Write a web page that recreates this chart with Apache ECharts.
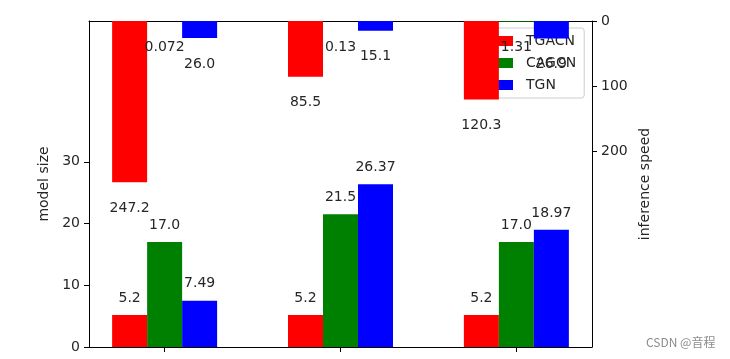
<!DOCTYPE html>
<html>
<head>
<meta charset="utf-8">
<script src="https://cdn.jsdelivr.net/npm/echarts@6/dist/echarts.min.js"></script>
<style>
html,body{margin:0;padding:0;background:#fff;}
#chart{width:730px;height:359px;}
</style>
</head>
<body>
<div id="chart"></div>
<script>
// ---- data ----
var categories = [0, 1, 2];
var seriesNames = ['TGACN', 'CAGCN', 'TGN'];
var modelSizeTGACN = [5.2, 5.2, 5.2];
var modelSizeCAGCN = [17.0, 21.5, 17.0];
var modelSizeTGN = [7.49, 26.37, 18.97];
var speedTGACN = [247.2, 85.5, 120.3];
var speedCAGCN = [0.072, 0.13, 1.31];
var speedTGN = [26.0, 15.1, 26.9];
var leftTicks = [0, 10, 20, 30];
var rightTicks = [0, 100, 200];
var colors = ['#ff0000', '#008000', '#0000ff'];

var FONT = 'DejaVu Sans';
var TXT = '#262626';

function pairs(vals) { return categories.map(function (c, i) { return [c, vals[i]]; }); }
function fmt(p) {
  var v = p.value[1];
  return Number.isInteger(v) ? v.toFixed(1) : String(v);
}

function leftSeries(name, vals, color) {
  return {
    name: name, type: 'bar', xAxisIndex: 0, yAxisIndex: 0,
    data: pairs(vals), barWidth: 35, barGap: '0%',
    itemStyle: { color: color },
    label: { show: true, position: 'top', distance: 10, formatter: fmt,
      fontFamily: FONT, fontSize: 14, color: TXT },
    z: 2
  };
}
function rightSeries(name, vals, color) {
  return {
    name: name + ' speed', type: 'bar', xAxisIndex: 1, yAxisIndex: 1,
    data: pairs(vals), barWidth: 35, barGap: '0%',
    itemStyle: { color: color },
    label: { show: true, position: 'bottom', distance: 19, formatter: fmt,
      fontFamily: FONT, fontSize: 14, color: TXT },
    z: 3
  };
}

var axisLineStyle = { show: true, onZero: false, lineStyle: { color: '#000', width: 1 } };

var option = {
  animation: false,
  backgroundColor: '#fff',
  grid: { left: 89, right: 138, top: 21, bottom: 12, containLabel: false },
  legend: {
    data: seriesNames,
    orient: 'vertical',
    left: 478, top: 28,
    padding: [5, 8, 5, 7],
    itemWidth: 28, itemHeight: 10, itemGap: 6,
    icon: 'rect',
    backgroundColor: 'rgba(255,255,255,0.8)',
    borderColor: '#cccccc', borderWidth: 1, borderRadius: 3,
    textStyle: { fontFamily: FONT, fontSize: 14, color: TXT, lineHeight: 16, padding: [0, 0, 0, 8] },
    z: 1
  },
  xAxis: [
    { type: 'value', min: -0.43, max: 2.43, position: 'bottom',
      axisLine: axisLineStyle,
      axisTick: { show: true, length: 5, customValues: categories, lineStyle: { color: '#000' } },
      axisLabel: { show: false },
      splitLine: { show: false } },
    { type: 'value', min: -0.43, max: 2.43, position: 'top',
      axisLine: axisLineStyle,
      axisTick: { show: false }, axisLabel: { show: false },
      splitLine: { show: false } }
  ],
  yAxis: [
    { type: 'value', min: 0, max: 52.8, position: 'left',
      name: 'model size', nameLocation: 'middle', nameGap: 38,
      nameTextStyle: { fontFamily: FONT, fontSize: 14, color: TXT },
      axisLine: axisLineStyle,
      axisTick: { show: true, length: 5, customValues: leftTicks, lineStyle: { color: '#000' } },
      axisLabel: { show: true, customValues: leftTicks, margin: 9,
        fontFamily: FONT, fontSize: 14, color: TXT },
      splitLine: { show: false } },
    { type: 'value', min: 0, max: 500, inverse: true, position: 'right',
      name: 'inference speed', nameLocation: 'middle', nameGap: 40,
      nameTextStyle: { fontFamily: FONT, fontSize: 14, color: TXT },
      axisLine: axisLineStyle,
      axisTick: { show: true, length: 5, customValues: rightTicks, lineStyle: { color: '#000' } },
      axisLabel: { show: true, customValues: rightTicks, margin: 9,
        fontFamily: FONT, fontSize: 14, color: TXT },
      splitLine: { show: false } }
  ],
  graphic: [
    { type: 'text', left: 646, top: 336,
      style: { text: 'CSDN @音程', fontFamily: 'Noto Sans CJK SC', fontSize: 12, fill: '#8c8c8c' } }
  ],
  series: [
    leftSeries(seriesNames[0], modelSizeTGACN, colors[0]),
    leftSeries(seriesNames[1], modelSizeCAGCN, colors[1]),
    leftSeries(seriesNames[2], modelSizeTGN, colors[2]),
    rightSeries(seriesNames[0], speedTGACN, colors[0]),
    rightSeries(seriesNames[1], speedCAGCN, colors[1]),
    rightSeries(seriesNames[2], speedTGN, colors[2])
  ]
};

var chart = echarts.init(document.getElementById('chart'), null, { renderer: 'canvas' });
chart.setOption(option);
</script>
</body>
</html>
